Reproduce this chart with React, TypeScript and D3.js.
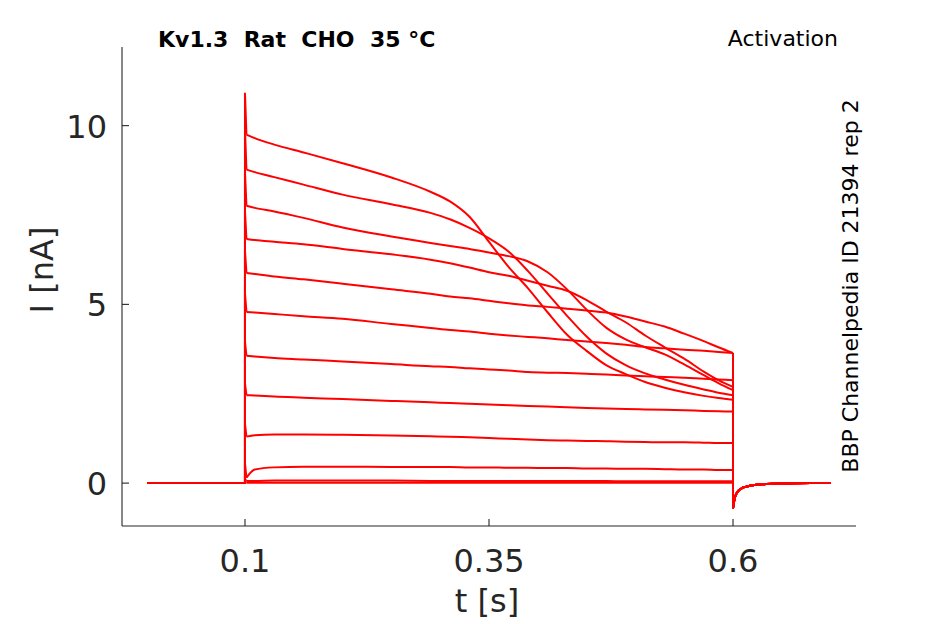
import React from 'react';
import * as d3 from 'd3';

const W = 945;
const H = 624;

const xTicks = [0.1, 0.35, 0.6];
const xTickLabels = ['0.1', '0.35', '0.6'];
const yTicks = [0, 5, 10];
const yTickLabels = ['0', '5', '10'];

const stimOn = 0.1;
const stimOff = 0.6;
const tStart = 0;

// sample times during the voltage step (s)
const plateauTimes = [0.1015, 0.11, 0.13, 0.16, 0.2, 0.25, 0.29, 0.31, 0.33, 0.35, 0.37, 0.39, 0.41, 0.43, 0.45, 0.47, 0.49, 0.51, 0.53, 0.55, 0.57, 0.585, 0.6];

// current (nA) of each sweep at plateauTimes
const sweepA = [9.75, 9.65, 9.47, 9.25, 8.95, 8.55, 8.15, 7.88, 7.45, 6.75, 6.05, 5.45, 4.78, 4.15, 3.7, 3.3, 3.05, 2.83, 2.67, 2.54, 2.44, 2.38, 2.33];
const sweepB = [8.77, 8.7, 8.56, 8.35, 8.07, 7.8, 7.56, 7.38, 7.14, 6.85, 6.48, 5.93, 5.3, 4.68, 4.1, 3.63, 3.3, 3.07, 2.9, 2.75, 2.62, 2.53, 2.46];
const sweepC = [7.76, 7.7, 7.6, 7.42, 7.15, 6.9, 6.72, 6.63, 6.55, 6.45, 6.35, 6.2, 5.9, 5.42, 4.85, 4.35, 4.02, 3.8, 3.6, 3.32, 3.02, 2.8, 2.6];
const sweepD = [6.83, 6.8, 6.75, 6.68, 6.55, 6.4, 6.25, 6.15, 6.03, 5.9, 5.8, 5.66, 5.52, 5.38, 5.12, 4.8, 4.5, 4.13, 3.8, 3.48, 3.12, 2.88, 2.69];
const sweepE = [5.88, 5.85, 5.78, 5.7, 5.58, 5.42, 5.3, 5.22, 5.17, 5.1, 5.03, 4.97, 4.93, 4.88, 4.83, 4.77, 4.66, 4.52, 4.38, 4.18, 3.97, 3.8, 3.64];
const sweepF = [4.79, 4.77, 4.73, 4.67, 4.6, 4.45, 4.34, 4.28, 4.24, 4.18, 4.13, 4.09, 4.05, 4.0, 3.96, 3.92, 3.87, 3.81, 3.77, 3.73, 3.7, 3.67, 3.64];
const sweepG = [3.56, 3.54, 3.5, 3.46, 3.4, 3.33, 3.27, 3.25, 3.21, 3.18, 3.15, 3.11, 3.09, 3.08, 3.06, 3.04, 3.01, 2.99, 2.97, 2.95, 2.92, 2.9, 2.88];
const sweepH = [2.46, 2.45, 2.42, 2.39, 2.35, 2.3, 2.26, 2.24, 2.22, 2.2, 2.18, 2.16, 2.14, 2.12, 2.1, 2.09, 2.07, 2.06, 2.05, 2.04, 2.02, 2.01, 2.0];
const sweepI = [1.3, 1.34, 1.36, 1.36, 1.35, 1.33, 1.31, 1.3, 1.28, 1.26, 1.24, 1.22, 1.2, 1.19, 1.18, 1.17, 1.16, 1.15, 1.14, 1.14, 1.13, 1.12, 1.12];
const sweepJ = [0.15, 0.38, 0.44, 0.46, 0.46, 0.45, 0.45, 0.45, 0.44, 0.44, 0.43, 0.43, 0.42, 0.42, 0.41, 0.41, 0.4, 0.4, 0.39, 0.38, 0.38, 0.37, 0.37];
const sweepK = [0.06, 0.06, 0.07, 0.07, 0.07, 0.07, 0.06, 0.06, 0.06, 0.06, 0.06, 0.06, 0.06, 0.06, 0.06, 0.06, 0.05, 0.05, 0.05, 0.05, 0.05, 0.05, 0.05];
const sweepL = [0.01, 0.01, 0.01, 0.01, 0.01, 0.01, 0.01, 0.01, 0.01, 0.01, 0.01, 0.01, 0.01, 0.01, 0.01, 0.01, 0.01, 0.01, 0.01, 0.01, 0.01, 0.01, 0.01];

// capacitive onset peak of each sweep (nA)
const onsetPeaks = [10.9, 9.9, 8.7, 7.6, 6.5, 5.3, 3.95, 2.78, 1.65, 0.55, 0.12, 0.03];

// tail current after the step
const tailTimes = [0.6, 0.6015, 0.603, 0.606, 0.61, 0.615, 0.62, 0.63, 0.645, 0.66, 0.68, 0.7];
const tailValues = [-0.7, -0.45, -0.32, -0.2, -0.13, -0.09, -0.06, -0.03, -0.015, -0.005, 0, 0];

const sweeps = [sweepA, sweepB, sweepC, sweepD, sweepE, sweepF, sweepG, sweepH, sweepI, sweepJ, sweepK, sweepL];

const TEXT = '#262626';
const RED = '#ff0000';
const FONT = 'DejaVu Sans, sans-serif';

export default function App() {
  const x = d3.scaleLinear().domain([-0.026, 0.726]).range([122, 856]);
  const y = d3.scaleLinear().domain([-1.2, 12.2]).range([526, 47]);

  const linear = d3.line<[number, number]>().x(d => x(d[0])).y(d => y(d[1]));
  const smooth = d3
    .line<[number, number]>()
    .x(d => x(d[0]))
    .y(d => y(d[1]))
    .curve(d3.curveMonotoneX);

  const tailPts: [number, number][] = tailTimes.map((t, i) => [t, tailValues[i]]);

  return (
    <svg
      width={W}
      height={H}
      style={{ position: 'absolute', left: 0, top: 0, background: '#fff' }}
      fontFamily={FONT}
    >
      <rect x={0} y={0} width={W} height={H} fill="#fff" />
      <g fill="none" stroke={RED} strokeWidth={2} strokeLinejoin="round">
        {sweeps.map((vals, i) => {
          const plateau: [number, number][] = plateauTimes.map((t, j) => [t, vals[j]]);
          const onset: [number, number][] = [
            [tStart, 0],
            [stimOn, 0],
            [stimOn, onsetPeaks[i]],
            [plateauTimes[0], vals[0]],
          ];
          const offset: [number, number][] = [
            [stimOff, vals[vals.length - 1]],
            [stimOff, tailValues[0]],
          ];
          return (
            <g key={i}>
              <path d={linear(onset) || ''} />
              <path d={smooth(plateau) || ''} />
              <path d={linear(offset) || ''} />
              <path d={smooth(tailPts) || ''} />
            </g>
          );
        })}
      </g>

      {/* axes */}
      <g stroke={TEXT} strokeWidth={1.1} fill="none">
        <line x1={122} y1={47} x2={122} y2={526} />
        <line x1={122} y1={526} x2={856} y2={526} />
        {xTicks.map(t => (
          <line key={'xt' + t} x1={x(t)} x2={x(t)} y1={526} y2={519} />
        ))}
        {yTicks.map(v => (
          <line key={'yt' + v} x1={122} x2={129} y1={y(v)} y2={y(v)} />
        ))}
      </g>
      <g fill={TEXT} fontSize={32}>
        {xTicks.map((t, i) => (
          <text key={'xl' + t} x={x(t)} y={572} textAnchor="middle">
            {xTickLabels[i]}
          </text>
        ))}
        {yTicks.map((v, i) => (
          <text key={'yl' + v} x={107} y={y(v) + 12} textAnchor="end">
            {yTickLabels[i]}
          </text>
        ))}
        <text x={x(0.35) - 2} y={612} textAnchor="middle">
          t [s]
        </text>
        <text transform="translate(53,270) rotate(-90)" textAnchor="middle">
          I [nA]
        </text>
      </g>
      <text x={158} y={47} fontSize={22} fontWeight="bold" fill="#000" style={{ whiteSpace: 'pre' }}>
        {'Kv1.3  Rat  CHO  35 °C'}
      </text>
      <text x={838} y={46} fontSize={22} textAnchor="end" fill="#000">
        Activation
      </text>
      <text transform="translate(858,286) rotate(-90)" fontSize={22} textAnchor="middle" fill="#000">
        BBP Channelpedia ID 21394 rep 2
      </text>
    </svg>
  );
}
